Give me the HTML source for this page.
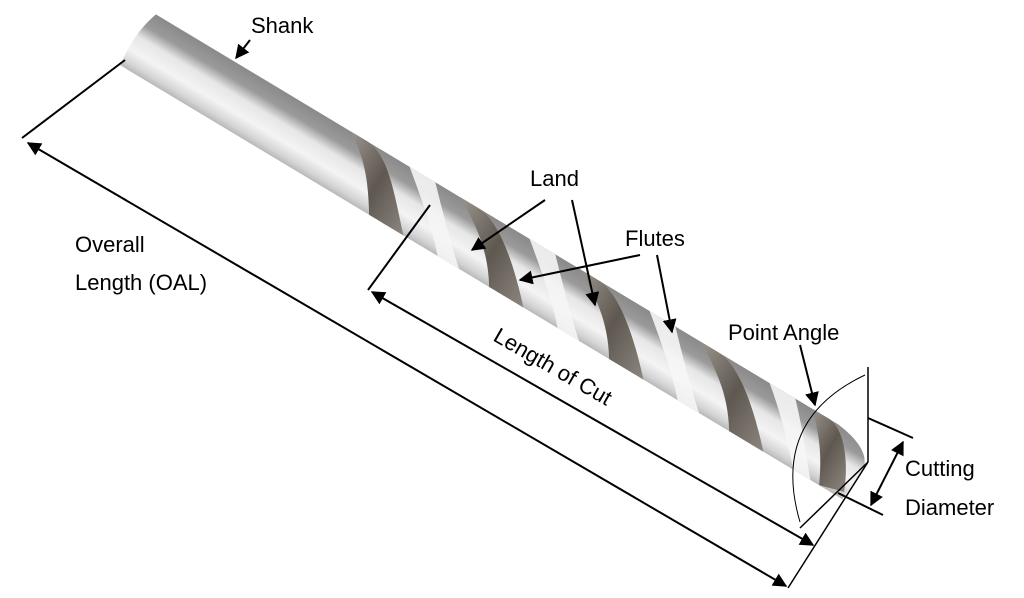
<!DOCTYPE html>
<html><head><meta charset="utf-8"><style>
html,body{margin:0;padding:0;background:#fff;}
svg{display:block;font-family:"Liberation Sans",Calibri,sans-serif;}
</style></head><body>
<svg width="1024" height="598" viewBox="0 0 1024 598" xmlns="http://www.w3.org/2000/svg">
<defs>
<linearGradient id="g" x1="0" y1="0" x2="0" y2="1">
<stop offset="0" stop-color="#8a8a8a"/>
<stop offset="0.25" stop-color="#9a9a9a"/>
<stop offset="0.45" stop-color="#e6e6e6"/>
<stop offset="0.7" stop-color="#f4f4f4"/>
<stop offset="0.9" stop-color="#d4d4d4"/>
<stop offset="1" stop-color="#b8b8b8"/>
</linearGradient>
<linearGradient id="f" x1="0" y1="0" x2="1" y2="0">
<stop offset="0" stop-color="#9a948c"/>
<stop offset="0.5" stop-color="#5e5851"/>
<stop offset="1" stop-color="#8c867e"/>
</linearGradient>
<marker id="a" viewBox="0 0 10 10" refX="9" refY="5" markerWidth="7" markerHeight="7" orient="auto-start-reverse"><path d="M0,0L10,5L0,10z" fill="#000"/></marker>
</defs>
<g transform="translate(137,38) rotate(31)">
<path d="M4,-30 L800,-30 Q845,-25 845,0 L842,32 L0,32 Q-6,0 4,-30z" fill="url(#g)"/>
<g fill="url(#f)">
<path d="M250,-30 C275,-30 300,0 330,32 L290,32 C270,0 255,-15 232,-30z"/>
<path d="M380,-30 C405,-30 440,0 470,32 L430,32 C410,0 385,-15 360,-30z"/>
<path d="M520,-30 C545,-30 580,0 610,32 L570,32 C550,0 525,-15 500,-30z"/>
<path d="M660,-30 C685,-30 720,0 750,32 L710,32 C690,0 665,-15 640,-30z"/>
<path d="M790,-30 C810,-28 830,0 840,25 L815,32 C800,0 785,-15 770,-30z"/>
</g>
<g fill="#f6f6f6" opacity="0.9">
<path d="M300,-30 L330,-30 C350,-10 375,15 395,32 L370,32 C350,10 325,-10 300,-30z"/>
<path d="M440,-30 L470,-30 C490,-10 515,15 535,32 L510,32 C490,10 465,-10 440,-30z"/>
<path d="M580,-30 L610,-30 C630,-10 655,15 675,32 L650,32 C630,10 605,-10 580,-30z"/>
<path d="M720,-30 L750,-30 C770,-10 790,15 805,32 L785,32 C765,10 745,-10 720,-30z"/>
</g>
</g>
<g stroke="#000" stroke-width="2" fill="none">
<line x1="125" y1="60" x2="22" y2="138"/>
<line x1="28" y1="143" x2="786" y2="586" marker-start="url(#a)" marker-end="url(#a)"/>
<line x1="788" y1="588" x2="868" y2="462" stroke-width="1.5"/>
<line x1="430" y1="205" x2="368" y2="290"/>
<line x1="372" y1="292" x2="813" y2="545" marker-start="url(#a)" marker-end="url(#a)"/>
<line x1="800" y1="528" x2="868" y2="462" stroke-width="1.5"/>
<line x1="250" y1="40" x2="236" y2="58" marker-end="url(#a)"/>
<line x1="545" y1="200" x2="472" y2="250" marker-end="url(#a)"/>
<line x1="572" y1="200" x2="595" y2="305" marker-end="url(#a)"/>
<line x1="640" y1="255" x2="520" y2="280" marker-end="url(#a)"/>
<line x1="657" y1="255" x2="672" y2="332" marker-end="url(#a)"/>
<line x1="800" y1="345" x2="815" y2="405" marker-end="url(#a)"/>
<path d="M865,375 Q770,420 800,522" stroke-width="1"/>
<line x1="868" y1="367" x2="868" y2="462" stroke-width="1.5"/>
<line x1="868" y1="418" x2="913" y2="438"/>
<line x1="838" y1="493" x2="883" y2="515"/>
<line x1="903" y1="442" x2="871" y2="505" marker-start="url(#a)" marker-end="url(#a)"/>
</g>
<g font-size="22" fill="#000">
<text x="251" y="33">Shank</text>
<text x="75" y="252">Overall</text>
<text x="75" y="290">Length (OAL)</text>
<text x="530" y="186">Land</text>
<text x="625" y="246">Flutes</text>
<text x="728" y="340">Point Angle</text>
<text x="905" y="476">Cutting</text>
<text x="905" y="515">Diameter</text>
<text transform="translate(492,340) rotate(30)">Length of Cut</text>
</g>
</svg>
</body></html>
